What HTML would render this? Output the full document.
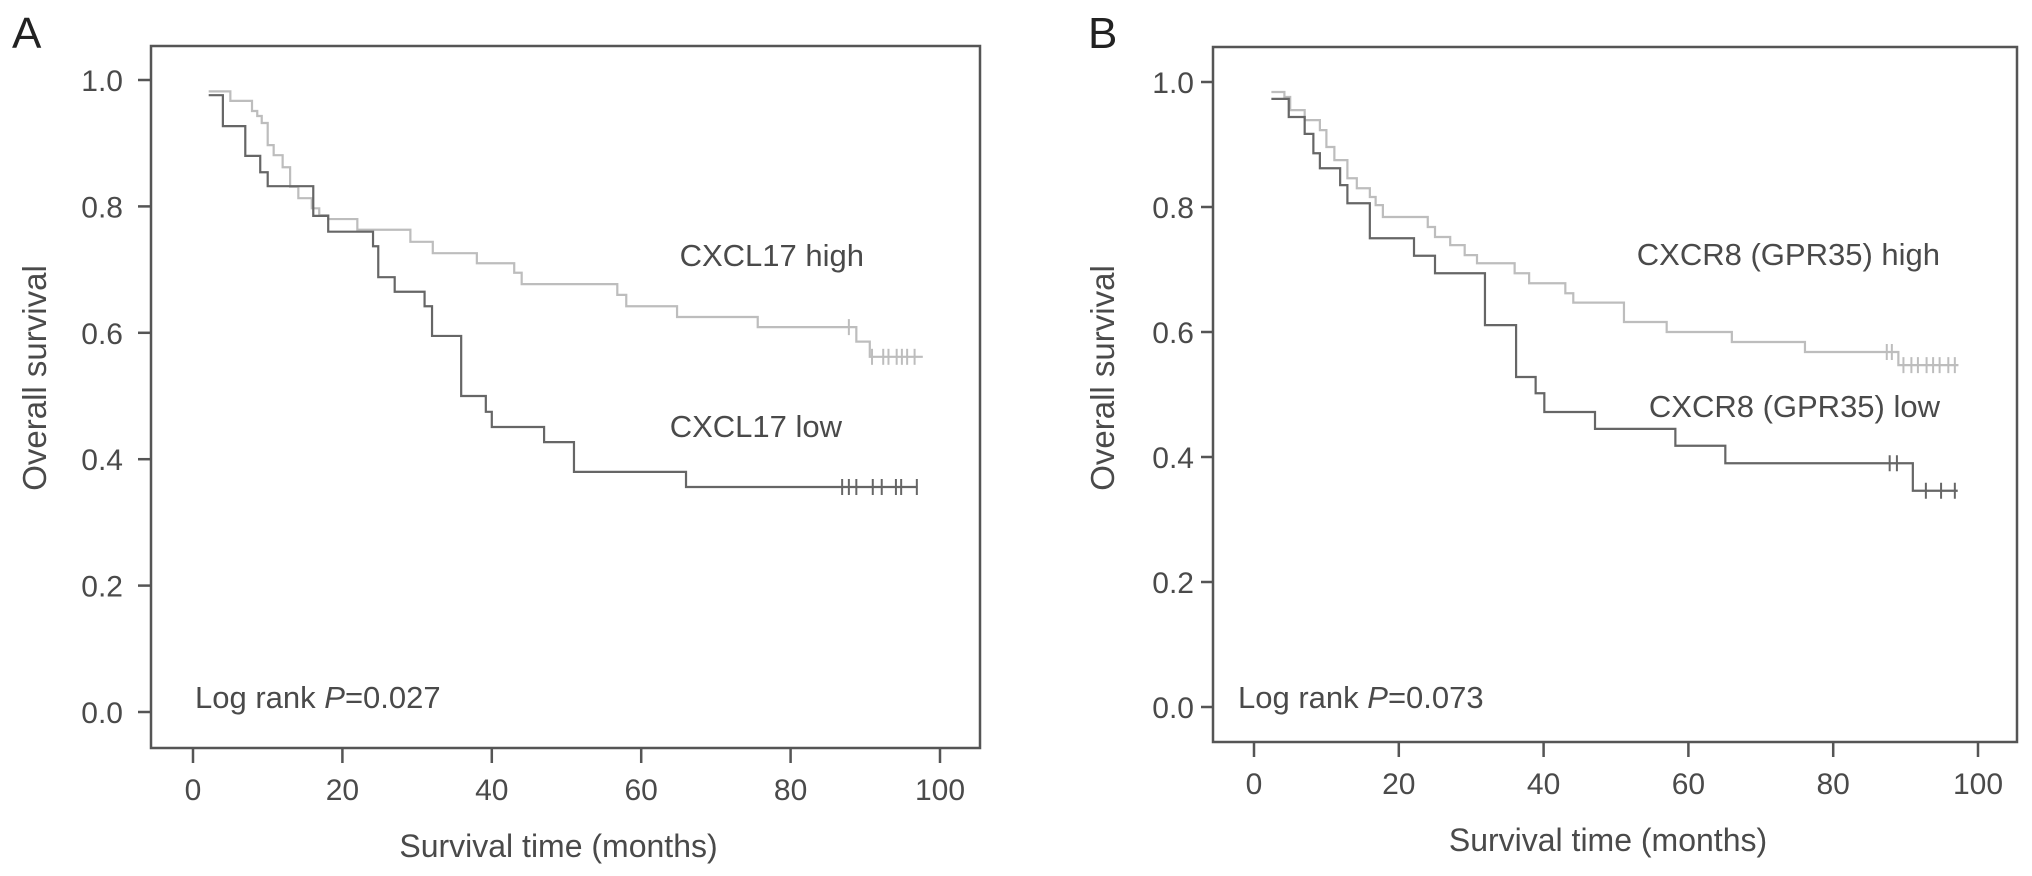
<!DOCTYPE html>
<html><head><meta charset="utf-8"><style>
html,body{margin:0;padding:0;background:#fff;}
svg{display:block;font-family:"Liberation Sans",Arial,sans-serif;}
</style></head><body>
<svg id="fig" width="2032" height="876" viewBox="0 0 2032 876"></svg>
<script>
// ---- Panel A data ----
const xTicks = [0, 20, 40, 60, 80, 100];
const yTicks = [0.0, 0.2, 0.4, 0.6, 0.8, 1.0];
const yTickLabels = ["0.0", "0.2", "0.4", "0.6", "0.8", "1.0"];
const aLowTimes = [2.1, 4.0, 7.0, 9.0, 10.0, 16.1, 18.1, 24.1, 24.8, 27.0, 31.0, 32.0, 35.9, 39.2, 40.0, 47.0, 51.0, 66.0];
const aLowSurv  = [0.976, 0.927, 0.880, 0.854, 0.832, 0.785, 0.760, 0.737, 0.688, 0.665, 0.642, 0.595, 0.500, 0.475, 0.451, 0.427, 0.380, 0.356];
const aLowCensor = [86.9, 87.8, 88.8, 91.0, 92.2, 94.1, 94.8, 96.9];
const aLowEnd = 97.0;
const aHighTimes = [2.1, 5.0, 7.9, 8.6, 9.2, 10.0, 10.8, 12.0, 13.0, 14.1, 15.9, 16.9, 18.1, 22.0, 29.1, 32.1, 38.0, 43.0, 44.0, 56.8, 58.0, 64.8, 75.6, 88.8, 90.6];
const aHighSurv  = [0.982, 0.967, 0.951, 0.943, 0.932, 0.897, 0.881, 0.862, 0.831, 0.813, 0.797, 0.786, 0.780, 0.763, 0.744, 0.726, 0.710, 0.695, 0.677, 0.660, 0.642, 0.625, 0.609, 0.586, 0.562];
const aHighCensor = [87.8, 90.9, 92.4, 93.1, 94.2, 94.9, 95.6, 96.6];
const aHighEnd = 97.7;
// ---- Panel B data ----
const bLowTimes = [2.4, 4.8, 7.0, 8.2, 9.1, 11.9, 12.9, 16.0, 22.1, 25.0, 31.9, 36.2, 38.9, 40.1, 47.1, 58.2, 65.1, 91.0];
const bLowSurv  = [0.973, 0.944, 0.917, 0.886, 0.862, 0.835, 0.806, 0.750, 0.722, 0.694, 0.611, 0.528, 0.502, 0.472, 0.445, 0.418, 0.390, 0.346];
const bLowCensor = [87.8, 88.8, 92.8, 94.9, 96.8];
const bLowEnd = 97.2;
const bHighTimes = [2.4, 4.2, 5.0, 7.0, 9.1, 10.0, 11.1, 12.9, 14.2, 16.0, 16.8, 17.8, 24.0, 25.0, 27.1, 29.1, 30.8, 36.0, 38.0, 43.0, 44.1, 51.1, 57.0, 66.0, 76.1, 89.0];
const bHighSurv  = [0.984, 0.976, 0.955, 0.939, 0.923, 0.896, 0.875, 0.846, 0.830, 0.816, 0.803, 0.784, 0.768, 0.752, 0.739, 0.723, 0.710, 0.694, 0.678, 0.662, 0.647, 0.616, 0.600, 0.584, 0.568, 0.547];
const bHighCensor = [87.4, 88.1, 89.7, 90.8, 91.7, 92.9, 93.8, 94.7, 95.9, 96.8];
const bHighEnd = 97.3;

const NS = "http://www.w3.org/2000/svg";
const svg = document.getElementById("fig");
function mk(tag, attrs, parent){
  const e = document.createElementNS(NS, tag);
  for (const k in attrs) e.setAttribute(k, attrs[k]);
  (parent || svg).appendChild(e);
  return e;
}
const INK = "#4a4a4a";

function panel(cfg){
  const g = mk("g", {});
  
  
  const xs = v => cfg.x0 + (cfg.x100 - cfg.x0) * v / 100;
  const ys = v => cfg.y0 + (cfg.y1 - cfg.y0) * v;
  const L = mk("text", {x: cfg.letterX, y: 48, "font-size": 44, fill: "#222"}, g);
  L.textContent = cfg.letter;
  
  
  const box = mk("rect", {x: cfg.left, y: cfg.top, width: cfg.right - cfg.left, height: cfg.bottom - cfg.top, fill: "none", stroke: "#555", "stroke-width": 2.5}, g);
  
  
  yTicks.forEach((v, i) => {
    const y = ys(v);
    const t = mk("line", {x1: cfg.left - cfg.tickLen, x2: cfg.left, y1: y, y2: y, stroke: "#555", "stroke-width": 2.5}, g);
    
    
    const lb = mk("text", {x: cfg.left - cfg.labelGap, y: y + 11, "text-anchor": "end", "font-size": 30, fill: INK}, g);
    lb.textContent = yTickLabels[i];
    
    
  });
  xTicks.forEach(v => {
    const x = xs(v);
    const t = mk("line", {x1: x, x2: x, y1: cfg.bottom, y2: cfg.bottom + 15, stroke: "#555", "stroke-width": 2.5}, g);
    
    
    const lb = mk("text", {x: x, y: cfg.bottom + 52, "text-anchor": "middle", "font-size": 30, fill: INK}, g);
    lb.textContent = String(v);
    
    
  });
  const xt = mk("text", {x: (xs(0) + xs(100)) / 2 - 8, y: cfg.bottom + 109, "text-anchor": "middle", "font-size": 32, fill: INK}, g);
  xt.textContent = "Survival time (months)";
  
  
  const yt = mk("text", {x: 0, y: 0, "text-anchor": "middle", "font-size": 33, fill: INK, transform: `translate(${cfg.yTitleX},378) rotate(-90)`}, g);
  yt.textContent = "Overall survival";
  
  
  function curve(times, surv, censor, end, color, name){
    let d = `M${xs(times[0])},${ys(surv[0])}`;
    for (let i = 1; i < times.length; i++){
      d += ` H${xs(times[i])} V${ys(surv[i])}`;
    }
    d += ` H${xs(end)}`;
    const p = mk("path", {d: d, fill: "none", stroke: color, "stroke-width": 2.2}, g);
    
    
    censor.forEach(c => {
      let s = surv[0];
      for (let i = 0; i < times.length; i++) if (times[i] <= c) s = surv[i];
      const x = xs(c), y = ys(s);
      const m = mk("line", {x1: x, x2: x, y1: y - 8, y2: y + 8, stroke: color, "stroke-width": 2}, g);
      
      
    });
  }
  curve(cfg.hiT, cfg.hiS, cfg.hiC, cfg.hiE, "#bdbdbd", "high-expression-curve");
  curve(cfg.loT, cfg.loS, cfg.loC, cfg.loE, "#666", "low-expression-curve");
  const a1 = mk("text", {x: cfg.hiLabelX, y: cfg.hiLabelY, "text-anchor": "end", "font-size": 31, fill: INK}, g);
  a1.textContent = cfg.hiLabel;
  
  
  const a2 = mk("text", {x: cfg.loLabelX, y: cfg.loLabelY, "text-anchor": "end", "font-size": 31, fill: INK}, g);
  a2.textContent = cfg.loLabel;
  
  
  const lr = mk("text", {x: cfg.lrX, y: 708, "font-size": 31, fill: INK}, g);
  
  
  const t1 = mk("tspan", {}, lr); t1.textContent = "Log rank ";
  const t2 = mk("tspan", {"font-style": "italic"}, lr); t2.textContent = "P";
  const t3 = mk("tspan", {}, lr); t3.textContent = "=" + cfg.p;
}

panel({id: "panel-a", letter: "A", letterX: 12, left: 151, right: 980, top: 46, bottom: 748,
  x0: 193, x100: 940, y0: 712, y1: 80, yTitleX: 46, tickLen: 13, labelGap: 28,
  hiT: aHighTimes, hiS: aHighSurv, hiC: aHighCensor, hiE: aHighEnd,
  loT: aLowTimes, loS: aLowSurv, loC: aLowCensor, loE: aLowEnd,
  hiLabel: "CXCL17 high", hiLabelX: 864, hiLabelY: 266,
  loLabel: "CXCL17 low", loLabelX: 842, loLabelY: 437,
  lrX: 195, p: "0.027"});
panel({id: "panel-b", letter: "B", letterX: 1088, left: 1213, right: 2017, top: 47, bottom: 742,
  x0: 1254, x100: 1978, y0: 707, y1: 82, yTitleX: 1114, tickLen: 12, labelGap: 19,
  hiT: bHighTimes, hiS: bHighSurv, hiC: bHighCensor, hiE: bHighEnd,
  loT: bLowTimes, loS: bLowSurv, loC: bLowCensor, loE: bLowEnd,
  hiLabel: "CXCR8 (GPR35) high", hiLabelX: 1940, hiLabelY: 265,
  loLabel: "CXCR8 (GPR35) low", loLabelX: 1940, loLabelY: 417,
  lrX: 1238, p: "0.073"});
</script>
</body></html>
